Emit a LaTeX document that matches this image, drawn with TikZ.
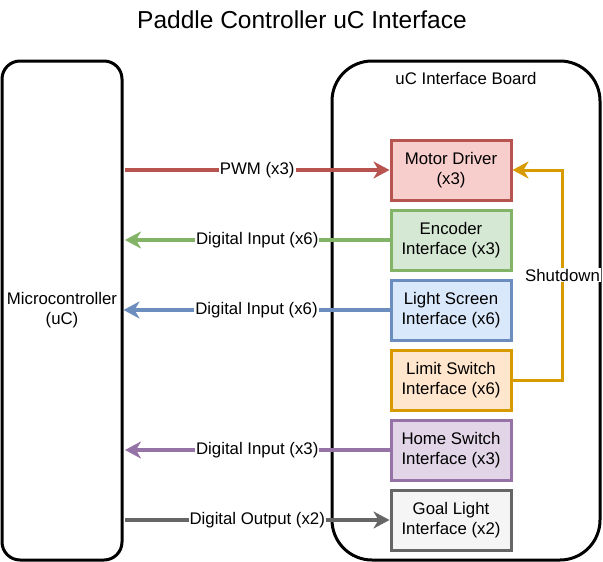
\documentclass[tikz,border=0pt]{standalone}
\usepackage{fontspec}
\setmainfont{Liberation Sans}
\usetikzlibrary{arrows.meta}

\definecolor{redline}{HTML}{B85450}
\definecolor{redfill}{HTML}{F8CECC}
\definecolor{greenline}{HTML}{82B366}
\definecolor{greenfill}{HTML}{D5E8D4}
\definecolor{blueline}{HTML}{6C8EBF}
\definecolor{bluefill}{HTML}{DAE8FC}
\definecolor{orangeline}{HTML}{D79B00}
\definecolor{orangefill}{HTML}{FFE6CC}
\definecolor{purpleline}{HTML}{9673A6}
\definecolor{purplefill}{HTML}{E1D5E7}
\definecolor{grayline}{HTML}{666666}
\definecolor{grayfill}{HTML}{F5F5F5}

\tikzset{
	txt/.style={font=\fontsize{16.8}{20}\selectfont,text=black},
	outerbox/.style={draw=black,line width=3pt,inner sep=0pt},
	ifbox/.style={txt,line width=3pt,minimum width=120pt,minimum height=60pt,
		inner sep=0pt,align=center},
	wire/.style={line width=3.5pt,-{Stealth[length=16pt,width=17pt,inset=5pt]}},
	wirelabel/.style={txt,fill=white,inner sep=1pt}
}

\begin{document}
\begin{tikzpicture}[x=1pt,y=-1pt]
\useasboundingbox (0,0) rectangle (603,562);

%Title
\node[font=\fontsize{24.5}{28}\selectfont] (title) at (302,20) {Paddle Controller uC Interface};

%outer boxes
\node[outerbox,rounded corners=18pt,minimum width=120pt,minimum height=499pt,txt,align=center]
	(uc) at (62,310.5) {Microcontroller\\(uC)};
\node[outerbox,rounded corners=40pt,minimum width=268pt,minimum height=499pt]
	(board) at (466,310.5) {};
\node[txt] (boardlabel) at (466,78) {uC Interface Board};

%interface boxes
\node[ifbox,draw=redline,fill=redfill] (motor) at (451,170) {Motor Driver\\(x3)};
\node[ifbox,draw=greenline,fill=greenfill] (encoder) at (451,240) {Encoder\\Interface (x3)};
\node[ifbox,draw=blueline,fill=bluefill] (light) at (451,310) {Light Screen\\Interface (x6)};
\node[ifbox,draw=orangeline,fill=orangefill] (limit) at (451,380) {Limit Switch\\Interface (x6)};
\node[ifbox,draw=purpleline,fill=purplefill] (home) at (451,450) {Home Switch\\Interface (x3)};
\node[ifbox,draw=grayline,fill=grayfill] (goal) at (451,520) {Goal Light\\Interface (x2)};

%free ends at the uC side
\coordinate (pwm) at (125,170);
\coordinate (enc) at (125,240);
\coordinate (hom) at (125,450);
\coordinate (gol) at (125,520);

\draw[wire,redline] (pwm) -- (motor.west) node[wirelabel,midway] {PWM (x3)};
\draw[wire,greenline] (encoder.west) -- (enc) node[wirelabel,midway] {Digital Input (x6)};
\draw[wire,blueline] (light.west) -- (uc.east |- light.west) node[wirelabel,midway] {Digital Input (x6)};
\draw[wire,purpleline] (home.west) -- (hom) node[wirelabel,midway] {Digital Input (x3)};
\draw[wire,grayline] (gol) -- (goal.west) node[wirelabel,midway] {Digital Output (x2)};

%Shutdown
\draw[wire,line width=3pt,orangeline] (limit.east) -- ++(50,0) |- (motor.east)
	node[wirelabel,pos=0.25] {Shutdown};
\end{tikzpicture}
\end{document}
